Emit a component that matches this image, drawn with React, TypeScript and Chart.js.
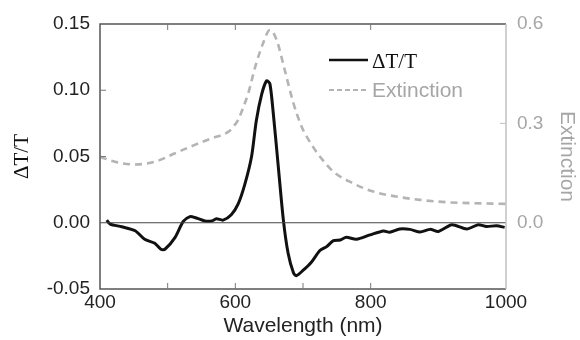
import React, { useEffect, useRef } from 'react';
import { Chart, registerables } from 'chart.js';

Chart.register(...registerables);

// ΔT/T series
const dtWavelength = [410, 415, 432, 452, 466, 481, 490, 496, 511, 523, 533, 540, 555, 565, 572, 582, 594, 604, 614, 624, 631, 639, 646, 651, 656, 663, 671, 678, 686, 690, 700, 712, 725, 735, 745, 755, 764, 779, 799, 819, 828, 843, 858, 873, 888, 900, 920, 942, 959, 971, 986, 998];
const dtValue = [0.002, -0.001, -0.003, -0.006, -0.0125, -0.0155, -0.02, -0.02, -0.011, 0.001, 0.0046, 0.004, 0.0013, 0.0013, 0.003, 0.002, 0.006, 0.014, 0.029, 0.05, 0.077, 0.097, 0.107, 0.105, 0.083, 0.045, 0.002, -0.023, -0.038, -0.04, -0.036, -0.03, -0.021, -0.018, -0.0135, -0.013, -0.011, -0.0125, -0.0092, -0.0062, -0.0072, -0.0047, -0.005, -0.007, -0.005, -0.0066, -0.0015, -0.0047, -0.0015, -0.0028, -0.0023, -0.0035];

// Extinction series
const extWavelength = [400, 422, 452, 481, 511, 540, 565, 590, 597, 604, 612, 619, 630, 641, 651, 661, 673, 686, 698, 713, 728, 745, 774, 804, 838, 873, 912, 952, 1000];
const extValue = [0.199, 0.184, 0.176, 0.184, 0.21, 0.235, 0.255, 0.275, 0.29, 0.31, 0.35, 0.39, 0.475, 0.542, 0.582, 0.552, 0.461, 0.36, 0.29, 0.235, 0.192, 0.154, 0.119, 0.094, 0.079, 0.069, 0.062, 0.059, 0.057];

// Axis ticks
const xTickLabels = [400, 600, 800, 1000];
const xMinorBottom = [500, 600, 700, 800];
const xMinorTop = [500, 600, 800];
const leftTickLabels = [-0.05, 0, 0.05, 0.1, 0.15];
const leftMinor = [0.05, 0.1];
const rightTickLabels = [0, 0.3, 0.6];
const rightMinor = [0.3];

const seriesLabels = ['ΔT/T', 'Extinction'];

const DARK = '#333';
const GRAY = '#b4b4b4';
const GRAY_TEXT = '#a6a6a6';

const framePlugin = {
  id: 'frame',
  afterDatasetsDraw(chart: any) {
    const { ctx, chartArea, scales } = chart;
    const { left, right, top, bottom } = chartArea;
    ctx.save();
    // zero line
    const y0 = scales.y.getPixelForValue(0);
    ctx.strokeStyle = '#444';
    ctx.lineWidth = 1.2;
    ctx.beginPath();
    ctx.moveTo(left, y0);
    ctx.lineTo(right, y0);
    ctx.stroke();
    // frame
    ctx.lineWidth = 1.5;
    ctx.strokeStyle = '#555';
    ctx.beginPath();
    ctx.moveTo(right, top);
    ctx.lineTo(left, top);
    ctx.lineTo(left, bottom);
    ctx.lineTo(right, bottom);
    ctx.stroke();
    ctx.strokeStyle = '#c0c0c0';
    ctx.beginPath();
    ctx.moveTo(right, top);
    ctx.lineTo(right, bottom);
    ctx.stroke();
    // inward ticks
    const tl = 6;
    ctx.lineWidth = 1;
    ctx.strokeStyle = '#777';
    ctx.beginPath();
    xMinorBottom.forEach((v) => {
      const x = scales.x.getPixelForValue(v);
      ctx.moveTo(x, bottom);
      ctx.lineTo(x, bottom - tl);
    });
    xMinorTop.forEach((v) => {
      const x = scales.x.getPixelForValue(v);
      ctx.moveTo(x, top);
      ctx.lineTo(x, top + tl);
    });
    leftMinor.forEach((v) => {
      const y = scales.y.getPixelForValue(v);
      ctx.moveTo(left, y);
      ctx.lineTo(left + tl, y);
    });
    ctx.stroke();
    ctx.strokeStyle = '#c0c0c0';
    ctx.beginPath();
    rightMinor.forEach((v) => {
      const y = scales.y1.getPixelForValue(v);
      ctx.moveTo(right, y);
      ctx.lineTo(right - tl, y);
    });
    ctx.stroke();
    ctx.restore();
  },
  afterDraw(chart: any) {
    const { ctx, chartArea } = chart;
    const lx0 = chartArea.left + 229;
    const lx1 = lx0 + 39;
    const tx = lx1 + 4;
    const row1 = chartArea.top + 36;
    const row2 = chartArea.top + 66;
    ctx.save();
    ctx.lineWidth = 2.5;
    ctx.strokeStyle = '#111';
    ctx.beginPath();
    ctx.moveTo(lx0, row1);
    ctx.lineTo(lx1, row1);
    ctx.stroke();
    ctx.strokeStyle = GRAY;
    ctx.lineWidth = 2;
    ctx.setLineDash([5, 3]);
    ctx.beginPath();
    ctx.moveTo(lx0, row2);
    ctx.lineTo(lx1, row2);
    ctx.stroke();
    ctx.setLineDash([]);
    ctx.textBaseline = 'middle';
    ctx.textAlign = 'left';
    ctx.fillStyle = '#111';
    ctx.font = '21px "Liberation Serif", "Times New Roman", serif';
    ctx.fillText(seriesLabels[0], tx, row1 + 2);
    ctx.fillStyle = GRAY_TEXT;
    ctx.font = '21px "Liberation Sans", Arial, sans-serif';
    ctx.fillText(seriesLabels[1], tx, row2 + 1);
    ctx.restore();
  },
};

export default function App() {
  const canvasRef = useRef<HTMLCanvasElement | null>(null);

  useEffect(() => {
    if (!canvasRef.current) return;
    const sans = '"Liberation Sans", Arial, sans-serif';
    const chart = new Chart(canvasRef.current, {
      type: 'line',
      data: {
        datasets: [
          {
            label: seriesLabels[1],
            data: extWavelength.map((x, i) => ({ x, y: extValue[i] })),
            yAxisID: 'y1',
            borderColor: GRAY,
            borderWidth: 2.6,
            borderDash: [7, 5],
            pointRadius: 0,
            cubicInterpolationMode: 'monotone',
            fill: false,
          },
          {
            label: seriesLabels[0],
            data: dtWavelength.map((x, i) => ({ x, y: dtValue[i] })),
            yAxisID: 'y',
            borderColor: '#111',
            borderWidth: 3,
            pointRadius: 0,
            tension: 0.25,
            fill: false,
          },
        ],
      },
      options: {
        animation: false,
        responsive: false,
        layout: { padding: { top: 24, left: 0, right: 0, bottom: 0 } },
        plugins: { legend: { display: false }, tooltip: { enabled: false } },
        scales: {
          x: {
            type: 'linear',
            min: 400,
            max: 1000,
            afterBuildTicks: (s: any) => {
              s.ticks = xTickLabels.map((v) => ({ value: v }));
            },
            afterFit: (s: any) => {
              s.height = 51;
            },
            grid: { display: false, drawTicks: false },
            border: { display: false },
            ticks: {
              padding: 2,
              maxRotation: 0,
              autoSkip: false,
              color: '#222',
              font: { family: sans, size: 19 },
              callback: (v: any) => String(v),
            },
            title: {
              display: true,
              text: 'Wavelength (nm)',
              color: '#222',
              font: { family: sans, size: 21 },
              padding: { top: 0, bottom: 1 },
            },
          },
          y: {
            type: 'linear',
            position: 'left',
            min: -0.05,
            max: 0.15,
            afterBuildTicks: (s: any) => {
              s.ticks = leftTickLabels.map((v) => ({ value: v }));
            },
            afterFit: (s: any) => {
              s.width = 100;
            },
            grid: { display: false, drawTicks: false },
            border: { display: false },
            ticks: {
              padding: 10,
              color: '#222',
              font: { family: sans, size: 19 },
              callback: (v: any) => Number(v).toFixed(2),
            },
            title: {
              display: true,
              text: 'ΔT/T',
              color: '#111',
              font: { family: '"Liberation Serif", "Times New Roman", serif', size: 21 },
              padding: { top: 10, bottom: 0 },
            },
          },
          y1: {
            type: 'linear',
            position: 'right',
            min: -0.2,
            max: 0.6,
            afterBuildTicks: (s: any) => {
              s.ticks = rightTickLabels.map((v) => ({ value: v }));
            },
            afterFit: (s: any) => {
              s.width = 74;
            },
            grid: { display: false, drawTicks: false },
            border: { display: false },
            ticks: {
              padding: 11,
              color: GRAY_TEXT,
              font: { family: sans, size: 19 },
              callback: (v: any) => Number(v).toFixed(1),
            },
            title: {
              display: true,
              text: 'Extinction',
              color: GRAY_TEXT,
              font: { family: sans, size: 21 },
              padding: { top: 1, bottom: 0 },
            },
          },
        },
      },
      plugins: [framePlugin],
    } as any);
    return () => chart.destroy();
  }, []);

  return (
    <div style={{ position: 'fixed', left: 0, top: 0, width: 580, height: 340, background: '#fff' }}>
      <canvas ref={canvasRef} width={580} height={340} />
    </div>
  );
}
